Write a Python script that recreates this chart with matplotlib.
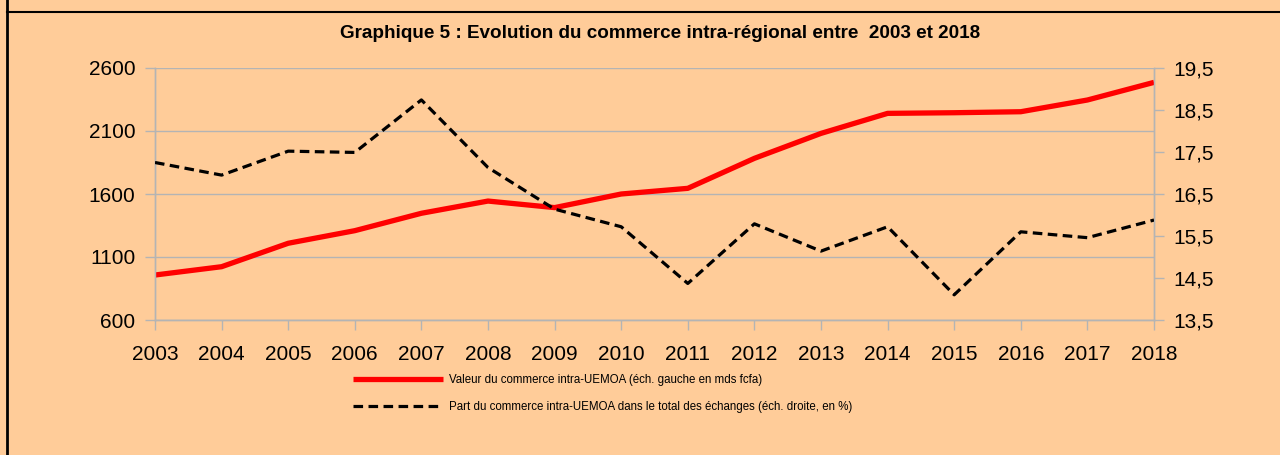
import matplotlib

matplotlib.use("Agg")

import matplotlib.pyplot as plt
from matplotlib.lines import Line2D
from matplotlib.ticker import FixedLocator, FuncFormatter

plt.rcParams["font.family"] = ["Liberation Sans", "DejaVu Sans"]

# data
years = list(range(2003, 2019))
valeur_mds_fcfa = [957, 1023, 1209, 1309, 1447, 1544, 1492, 1600,
                   1645, 1883, 2081, 2240, 2245, 2253, 2346, 2486]
part_pct = [17.25, 16.95, 17.52, 17.49, 18.74, 17.13, 16.14, 15.72,
            14.37, 15.79, 15.14, 15.72, 14.10, 15.60, 15.46, 15.88]

left_ticks = [600, 1100, 1600, 2100, 2600]
right_ticks = [13.5, 14.5, 15.5, 16.5, 17.5, 18.5, 19.5]

title = "Graphique 5 : Evolution du commerce intra-régional entre  2003 et 2018"
label_valeur = "Valeur du commerce intra-UEMOA (éch. gauche en mds fcfa)"
label_part = "Part du commerce intra-UEMOA dans le total des échanges (éch. droite, en %)"

BG = "#FFCC99"
GRID = "#B4B4B4"

fig = plt.figure(figsize=(12.8, 4.55), dpi=100, facecolor=BG)
ax = fig.add_axes([155 / 1280, 1 - 320 / 455, 999 / 1280, 252 / 455])
ax.set_facecolor(BG)
ax2 = ax.twinx()

l1, = ax.plot(years, valeur_mds_fcfa, color="#FF0000", lw=3.8,
              solid_capstyle="butt", zorder=3)
l2, = ax2.plot(years, part_pct, color="black", lw=2.3, dashes=(3.0, 1.7),
               dash_capstyle="butt", zorder=3)

ax.set_xlim(2003, 2018)
ax.set_ylim(600, 2600)
ax2.set_ylim(13.5, 19.5)
ax.set_xticks(years)
ax.set_yticks(left_ticks)
ax2.yaxis.set_major_locator(FixedLocator(right_ticks))
ax2.yaxis.set_major_formatter(FuncFormatter(lambda v, p: f"{v:.1f}".replace(".", ",")))

ax.grid(axis="y", color=GRID, lw=1.0)
ax.set_axisbelow(True)

for a in (ax, ax2):
    for side, sp in a.spines.items():
        sp.set_color(GRID)
        sp.set_linewidth(1.0)
    a.spines["top"].set_visible(False)

ax.tick_params(axis="both", colors=GRID, labelcolor="black", labelsize=15,
               length=7.5, width=1.0)
ax.tick_params(axis="y", pad=6.5)
ax.tick_params(axis="x", pad=10.5)
ax2.tick_params(axis="y", colors=GRID, labelcolor="black", labelsize=15,
                length=7.5, width=1.0, pad=6.5)

fig.text(660 / 1280, 1 - 33 / 455, title, ha="center", va="center",
         fontsize=13.6, fontweight="bold")

fig.legend([l1, l2], [label_valeur, label_part], loc="upper left",
           bbox_to_anchor=(353 / 1280, 1 - 374 / 455), frameon=False,
           fontsize=8.3, handlelength=7.8, handletextpad=0.5,
           labelspacing=1.3, borderaxespad=0, borderpad=0)

# frame lines of the original sheet
fig.add_artist(Line2D([7 / 1280, 7 / 1280], [0, 1], color="black", lw=2.0,
                      transform=fig.transFigure))
fig.add_artist(Line2D([7 / 1280, 1], [1 - 12 / 455, 1 - 12 / 455], color="black",
                      lw=1.5, transform=fig.transFigure))

fig.savefig("out.png", dpi=100, facecolor=BG)
